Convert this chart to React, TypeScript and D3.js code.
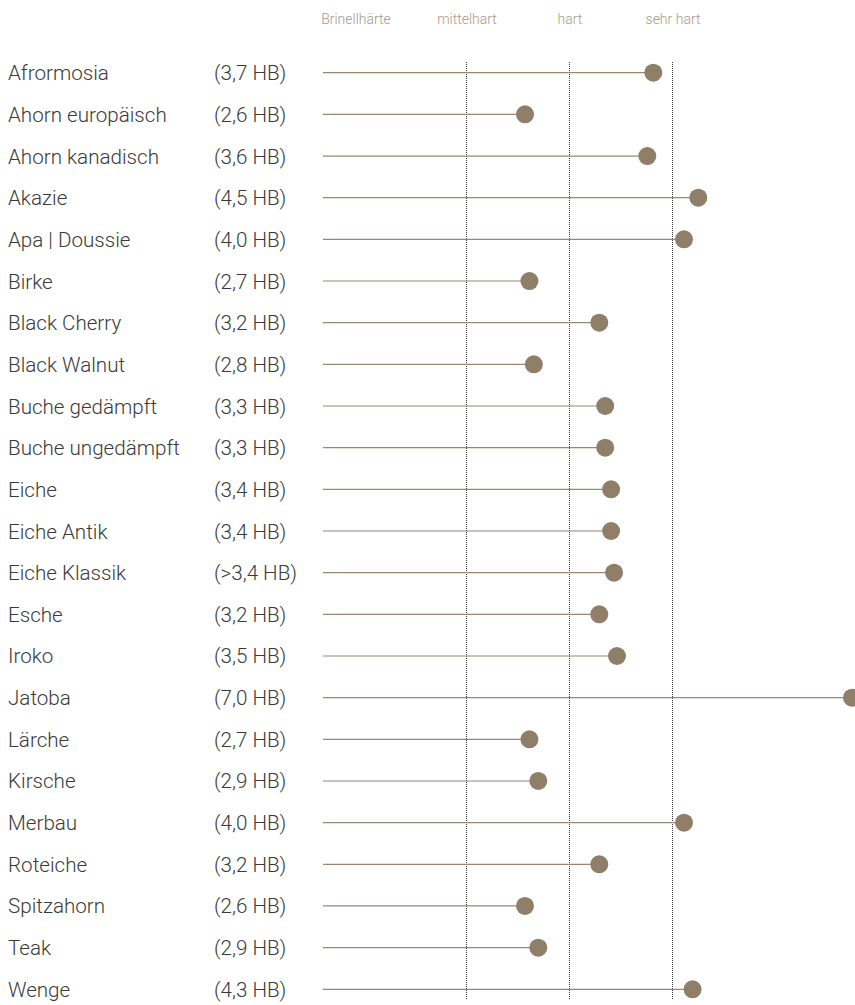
import React from "react";
import * as d3 from "d3";

const woods = [
  "Afrormosia", "Ahorn europäisch", "Ahorn kanadisch", "Akazie", "Apa | Doussie",
  "Birke", "Black Cherry", "Black Walnut", "Buche gedämpft", "Buche ungedämpft",
  "Eiche", "Eiche Antik", "Eiche Klassik", "Esche", "Iroko", "Jatoba", "Lärche",
  "Kirsche", "Merbau", "Roteiche", "Spitzahorn", "Teak", "Wenge",
];
const hardness = [
  3.7, 2.6, 3.6, 4.5, 4.0, 2.7, 3.2, 2.8, 3.3, 3.3, 3.4, 3.4, 3.45, 3.2, 3.5, 7.0,
  2.7, 2.9, 4.0, 3.2, 2.6, 2.9, 4.3,
];
const hardnessLabels = [
  "3,7", "2,6", "3,6", "4,5", "4,0", "2,7", "3,2", "2,8", "3,3", "3,3", "3,4", "3,4",
  ">3,4", "3,2", "3,5", "7,0", "2,7", "2,9", "4,0", "3,2", "2,6", "2,9", "4,3",
];
const headerLabels = ["Brinellhärte", "mittelhart", "hart", "sehr hart"];
const classNames = ["mittelhart", "hart", "sehr hart"];

const W = 855;
const H = 1005;
const lineStart = 323;

export default function App() {
  // piecewise (non-linear) hardness scale as drawn in the original
  const x = d3
    .scaleLinear()
    .domain([2.6, 2.9, 3.2, 3.5, 3.6, 3.7, 4.0, 4.5, 7.0])
    .range([525, 538.3, 599.3, 617, 647.3, 653.3, 684, 698.3, 852]);

  const y = d3
    .scalePoint<string>()
    .domain(woods)
    .range([72.7, 989.3]);

  const classX = d3
    .scalePoint<string>()
    .domain(classNames)
    .range([466, 672]);

  const headerX = (l: string, i: number) => (i === 0 ? 356 : (classX(l) as number) + 1);

  return (
    <svg
      width={W}
      height={H}
      style={{ position: "absolute", left: 0, top: 0, background: "#fff" }}
    >
      {headerLabels.map((l, i) => (
        <text
          key={l}
          x={headerX(l, i)}
          y={24}
          textAnchor="middle"
          fontFamily="Roboto, 'Liberation Sans', sans-serif"
          fontWeight={300}
          fontSize={14}
          fill="#a89a8c"
        >
          {l}
        </text>
      ))}
      {classNames.map((c) => (
        <line
          key={c}
          x1={(classX(c) as number) + 0.5}
          x2={(classX(c) as number) + 0.5}
          y1={62}
          y2={1000}
          stroke="#333"
          strokeWidth={1}
          strokeDasharray="1,1"
        />
      ))}
      {woods.map((w, i) => {
        const yy = y(w) as number;
        return (
          <g key={w}>
            <text
              x={8}
              y={yy + 7.5}
              fontFamily="Roboto, 'Liberation Sans', sans-serif"
              fontWeight={300}
              fontSize={20.6}
              fill="#3a3a3a"
            >
              {w}
            </text>
            <text
              x={214}
              y={yy + 7.5}
              fontFamily="Roboto, 'Liberation Sans', sans-serif"
              fontWeight={300}
              fontSize={20.6}
              fill="#3a3a3a"
            >
              {`(${hardnessLabels[i]} HB)`}
            </text>
            <line
              x1={lineStart}
              x2={x(hardness[i])}
              y1={yy}
              y2={yy}
              stroke="#9a8672"
              strokeWidth={1.2}
            />
            <circle cx={x(hardness[i])} cy={yy} r={9} fill="#8f7e68" />
          </g>
        );
      })}
    </svg>
  );
}
